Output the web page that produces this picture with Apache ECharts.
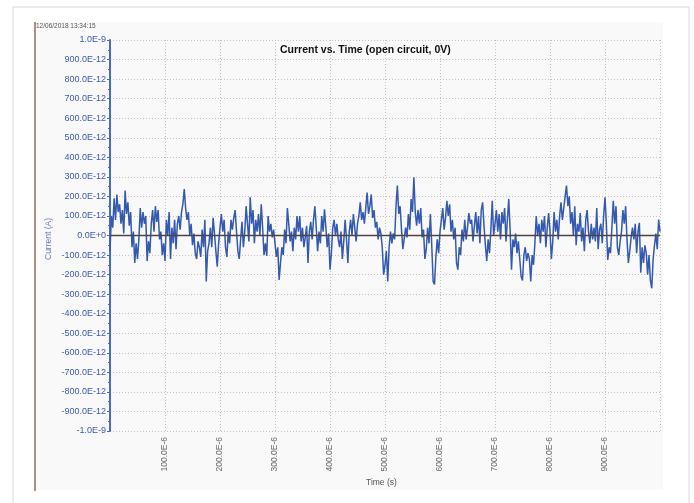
<!DOCTYPE html>
<html>
<head>
<meta charset="utf-8">
<script src="https://cdn.jsdelivr.net/npm/echarts@6/dist/echarts.min.js"></script>
<style>
html,body{margin:0;padding:0;background:#fff;}
#chart{width:694px;height:503px;}
</style>
</head>
<body>
<div id="chart"></div>
<script>
// Sample spacing of the trace (seconds)
const sampleStep = 2.5e-6;
// Current values, in units of 1E-12 A (one value per 2.5E-6 s, t = 0 .. 1000E-6 s)
const currentPicoAmps = [
  -80, 100, 40, 190, 80, 210, 120, 160, 60, 130,
  10, 230, 110, 170, 50, 120, -60, 20, -140, -40,
  -120, -20, 140, 40, 120, 60, 100, -130, -30, -90,
  60, 130, 20, 150, 70, 130, -20, 20, -100, -40,
  -130, 80, 0, 120, -120, 40, -40, 80, -70, 60,
  100, 30, 120, 160, 237, 140, 80, 120, 0, 60,
  -50, 10, -90, -120, -30, -60, -110, 30, -60, 80,
  -235, -80, -40, 40, -60, 90, 10, -80, -160, -40,
  40, 110, 20, 80, -60, -110, 20, -40, 80, 30,
  90, 130, 20, -80, -120, -20, 70, -60, 20, 150,
  60, -30, 195, 60, 130, -40, 80, 20, 110, 0,
  160, 40, -100, -40, -105, 100, 20, 60, -10, 30,
  -40, -110, -60, -227, -140, -60, -100, 30, -40, 140,
  60, -30, 20, -80, 40, -20, 100, 20, 100, -30,
  40, -60, -10, 50, -140, 20, 70, -20, 80, 150,
  40, -80, 20, -40, 100, 20, 134, 40, -60, 10,
  -175, -90, 40, 80, 0, 60, -20, -60, 20, -120,
  -30, 80, -20, -140, 20, 80, 0, 110, 40, -30,
  60, 100, 170, 80, 120, 60, 140, 220, 110, 150,
  210, 90, 130, 40, 70, -20, 40, 10, -60, -200,
  -150, -80, -235, -60, 20, -40, 10, -20, 150, 255,
  110, 150, 30, -70, -80, 40, -10, 110, 30, 186,
  120, 298, 120, 50, 130, 60, 140, -10, 30, -120,
  -70, 40, -40, 110, -50, -235, -250, -110, -20, -90,
  20, 80, 140, 30, 90, 177, 100, 160, 20, 80,
  -20, 40, -140, -175, -60, -100, 30, -30, 80, -20,
  40, 115, 60, 80, -30, 50, 120, 10, 100, -40,
  130, 170, 50, -50, -130, -20, -90, 30, 177, 0,
  60, 130, 20, 110, -20, 120, 60, 140, -30, 80,
  186, 30, -175, -20, -60, 10, -90, -30, -120, -210,
  -230, -100, -60, -130, -90, -120, -235, -100, -150, -40,
  100, 0, 60, -40, 80, 20, 100, -60, 40, 115,
  20, -120, -30, 120, 20, 80, -20, 100, 170, 80,
  140, 200, 255, 150, 200, 60, 120, 0, 150, -50,
  60, 20, 115, -30, 40, -80, 80, 130, 20, -40,
  60, -20, 40, -30, 140, -70, 30, 60, -40, 100,
  195, 60, -125, -60, -90, 40, 177, 60, 150, -60,
  -100, -30, 20, 130, 60, 150, -20, -140, -80, -10,
  40, -20, 60, -90, 20, 65, -190, -60, -140, -50,
  -90, -200, -100, -230, -270, -120, -50, 10, -70, 82,
  20
];
// Tick values / labels
const yTicks = [1000, 900, 800, 700, 600, 500, 400, 300, 200, 100, 0, -100, -200, -300, -400, -500, -600, -700, -800, -900, -1000];
const yTickLabels = ['1.0E-9', '900.0E-12', '800.0E-12', '700.0E-12', '600.0E-12', '500.0E-12', '400.0E-12', '300.0E-12', '200.0E-12', '100.0E-12', '0.0E+0', '-100.0E-12', '-200.0E-12', '-300.0E-12', '-400.0E-12', '-500.0E-12', '-600.0E-12', '-700.0E-12', '-800.0E-12', '-900.0E-12', '-1.0E-9'];
const xTicks = [100e-6, 200e-6, 300e-6, 400e-6, 500e-6, 600e-6, 700e-6, 800e-6, 900e-6];
const xTickLabels = ['100.0E-6', '200.0E-6', '300.0E-6', '400.0E-6', '500.0E-6', '600.0E-6', '700.0E-6', '800.0E-6', '900.0E-6'];
const titleText = 'Current vs. Time (open circuit, 0V)';
const stampText = '12/06/2018 13:34:15';
const xName = 'Time (s)';
const yName = 'Current (A)';

const seriesData = currentPicoAmps.map((v, i) => [i * sampleStep, v]);

const font = '"Liberation Sans", Arial, sans-serif';
const chart = echarts.init(document.getElementById('chart'), null, {renderer: 'canvas'});
chart.setOption({
  animation: false,
  backgroundColor: '#ffffff',
  textStyle: {fontFamily: font},
  graphic: [
    {type: 'rect', z: -10, shape: {x: 13, y: 7, width: 676, height: 510}, style: {fill: '#ffffff', stroke: '#d8d8d8', lineWidth: 1}},
    {type: 'rect', z: -9, shape: {x: 35, y: 22, width: 628, height: 468}, style: {fill: '#f9f9f9', stroke: null}},
    {type: 'line', z: -8, shape: {x1: 35, y1: 22, x2: 35, y2: 491}, style: {stroke: '#8a6e60', lineWidth: 1.5}},
    {type: 'text', left: 36, top: 23, style: {text: stampText, fontSize: 6.5, fill: '#555', fontFamily: font}},
    {type: 'text', left: 366, top: 478, style: {text: xName, fontSize: 8.5, fill: '#555', fontFamily: font}},
    {type: 'text', x: 44, y: 260, rotation: Math.PI / 2, style: {text: yName, fontSize: 8.5, fill: '#6a7db5', fontFamily: font}}
  ],
  title: {
    text: titleText, left: 275, top: 40,
    textStyle: {fontSize: 10.5, fontWeight: 'bold', color: '#111', fontFamily: font}
  },
  grid: {left: 110, right: 34, top: 40, bottom: 72, containLabel: false},
  xAxis: {
    type: 'value', min: 0, max: 1000e-6, interval: 100e-6,
    axisLine: {show: false},
    axisTick: {show: false},
    splitLine: {show: true, lineStyle: {color: '#cdbfbf', type: [1, 2], width: 1}},
    axisLabel: {
      rotate: 90, fontSize: 8.5, color: '#6a6a6a', margin: 6, fontFamily: font,
      formatter: (v) => {
        const i = xTicks.findIndex(t => Math.abs(t - v) < 1e-9);
        return i >= 0 ? xTickLabels[i] : '';
      }
    }
  },
  yAxis: {
    type: 'value', min: -1000, max: 1000, interval: 100,
    axisLine: {show: true, lineStyle: {color: '#4a6cc0', width: 2}},
    axisTick: {show: true, length: 3, lineStyle: {color: '#4a6cc0', width: 1}},
    minorTick: {show: true, splitNumber: 2, length: 2, lineStyle: {color: '#4a6cc0'}},
    splitLine: {show: true, lineStyle: {color: '#cdbfbf', type: [1, 2], width: 1}},
    axisLabel: {
      fontSize: 9, color: '#3d5bb0', margin: 4, fontFamily: font,
      formatter: (v) => {
        const i = yTicks.findIndex(t => Math.abs(t - v) < 1e-6);
        return i >= 0 ? yTickLabels[i] : '';
      }
    }
  },
  series: [{
    type: 'line', data: seriesData, showSymbol: false, symbol: 'none',
    lineStyle: {color: '#3459b0', width: 1.5},
    markLine: {
      silent: true, symbol: 'none', label: {show: false},
      lineStyle: {color: '#4f4440', width: 1.4, type: 'solid'},
      data: [{yAxis: 0}]
    },
    z: 3
  }]
});
</script>
</body>
</html>
